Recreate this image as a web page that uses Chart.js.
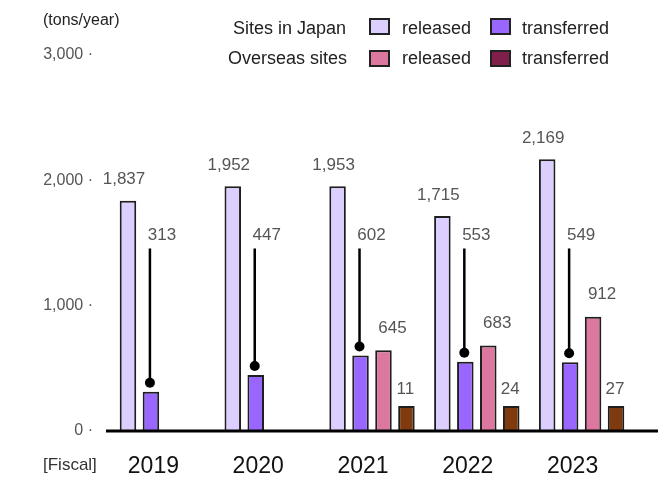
<!DOCTYPE html>
<html><head><meta charset="utf-8">
<script src="https://cdn.jsdelivr.net/npm/chart.js@4.4.1/dist/chart.umd.min.js"></script>
<style>
html,body{margin:0;padding:0;background:#fff;}
#wrap{position:relative;width:666px;height:481px;font-family:"Liberation Sans",Arial,sans-serif;overflow:hidden;}
canvas{position:absolute;left:0;top:0;}
.t{position:absolute;white-space:nowrap;line-height:1;color:#222;}
.box{position:absolute;width:17px;height:13px;border:2px solid #222;}
</style></head><body>
<div id="wrap">
<canvas id="c" width="666" height="481"></canvas>
<div class="t" style="left:43px;top:12px;font-size:16px;">(tons/year)</div>
<div class="t" style="right:320px;top:19px;font-size:18px;">Sites in Japan</div>
<div class="t" style="right:319px;top:49px;font-size:18px;">Overseas sites</div>
<div class="box" style="left:369px;top:18px;background:#DCCFFF;"></div>
<div class="t" style="left:402px;top:19px;font-size:18px;">released</div>
<div class="box" style="left:490px;top:18px;background:#9966FF;"></div>
<div class="t" style="left:522px;top:19px;font-size:18px;">transferred</div>
<div class="box" style="left:369px;top:50px;background:#DC77A0;"></div>
<div class="t" style="left:402px;top:49px;font-size:18px;">released</div>
<div class="box" style="left:490px;top:50px;background:#80204A;"></div>
<div class="t" style="left:522px;top:49px;font-size:18px;">transferred</div>
<div class="t" style="left:43px;top:456px;font-size:17px;color:#333;">[Fiscal]</div>
</div>
<script>
const categories = ['2019', '2020', '2021', '2022', '2023'];
const japanReleased = [1837, 1952, 1953, 1715, 2169];
const japanTransferred = [313, 447, 602, 553, 549];
const overseasReleased = [null, null, 645, 683, 912];
const overseasTransferred = [null, null, 11, 24, 27];
const yTickValues = [0, 1000, 2000, 3000];

const FONT = '"Liberation Sans", Arial, sans-serif';
const LEADER_LABEL_LEVEL = 1560;

const labelPlugin = {
  id: 'labels',
  afterDatasetsDraw(chart) {
    const ctx = chart.ctx;
    const ys = chart.scales.y;
    const y0 = ys.getPixelForValue(0);
    ctx.save();
    ctx.fillStyle = '#000';
    ctx.fillRect(106, y0 - 1.5, 552, 3);
    ctx.font = '17px ' + FONT;
    ctx.textAlign = 'center';
    ctx.textBaseline = 'middle';
    chart.data.datasets.forEach((ds, di) => {
      const meta = chart.getDatasetMeta(di);
      meta.data.forEach((bar, i) => {
        const v = ds.data[i];
        if (v === null || v === undefined) return;
        const txt = v.toLocaleString('en-US');
        ctx.fillStyle = '#555';
        if (di === 0) {
          ctx.fillText(txt, bar.x - 4, bar.y - 21);
        } else if (di === 1) {
          const ly = ys.getPixelForValue(LEADER_LABEL_LEVEL);
          ctx.fillText(txt, bar.x + 11, ly);
          const dotY = bar.y - 9;
          ctx.strokeStyle = '#000';
          ctx.lineWidth = 2.5;
          ctx.beginPath();
          ctx.moveTo(bar.x - 1, ly + 13);
          ctx.lineTo(bar.x - 1, dotY);
          ctx.stroke();
          ctx.fillStyle = '#000';
          ctx.beginPath();
          ctx.arc(bar.x - 1, dotY, 5, 0, Math.PI * 2);
          ctx.fill();
        } else if (di === 2) {
          ctx.fillText(txt, bar.x + 9, bar.y - 22);
        } else {
          ctx.fillText(txt, bar.x - 1, bar.y - 17);
        }
      });
    });
    ctx.restore();
  }
};

const common = { borderColor: '#1e1e1e', borderWidth: 2, categoryPercentage: 0.876, barPercentage: 0.72 };

new Chart(document.getElementById('c'), {
  type: 'bar',
  data: {
    labels: categories,
    datasets: [
      Object.assign({ label: 'Sites in Japan released', data: japanReleased, backgroundColor: '#DCCFFF' }, common),
      Object.assign({ label: 'Sites in Japan transferred', data: japanTransferred, backgroundColor: '#9966FF' }, common),
      Object.assign({ label: 'Overseas sites released', data: overseasReleased, backgroundColor: '#DC77A0' }, common),
      Object.assign({ label: 'Overseas sites transferred', data: overseasTransferred, backgroundColor: '#7F3A10', minBarLength: 25 }, common)
    ]
  },
  options: {
    responsive: false,
    animation: false,
    devicePixelRatio: 1,
    layout: { padding: { top: 55, right: 32, left: 0, bottom: 0 } },
    plugins: { legend: { display: false }, tooltip: { enabled: false } },
    scales: {
      x: {
        grid: { display: false, drawTicks: false },
        border: { display: false },
        ticks: { color: '#111', font: { size: 23, family: FONT }, padding: 22, labelOffset: -9 },
        afterFit(s) { s.height = 50; }
      },
      y: {
        min: 0, max: 3000,
        afterBuildTicks(s) { s.ticks = yTickValues.map(v => ({ value: v })); },
        grid: { display: false, drawTicks: false },
        border: { display: false },
        ticks: {
          color: '#555', font: { size: 16, family: FONT }, padding: 17,
          callback: v => v.toLocaleString('en-US') + ' \u00B7'
        },
        afterFit(s) { s.width = 110; }
      }
    }
  },
  plugins: [labelPlugin]
});
</script>
</body></html>
